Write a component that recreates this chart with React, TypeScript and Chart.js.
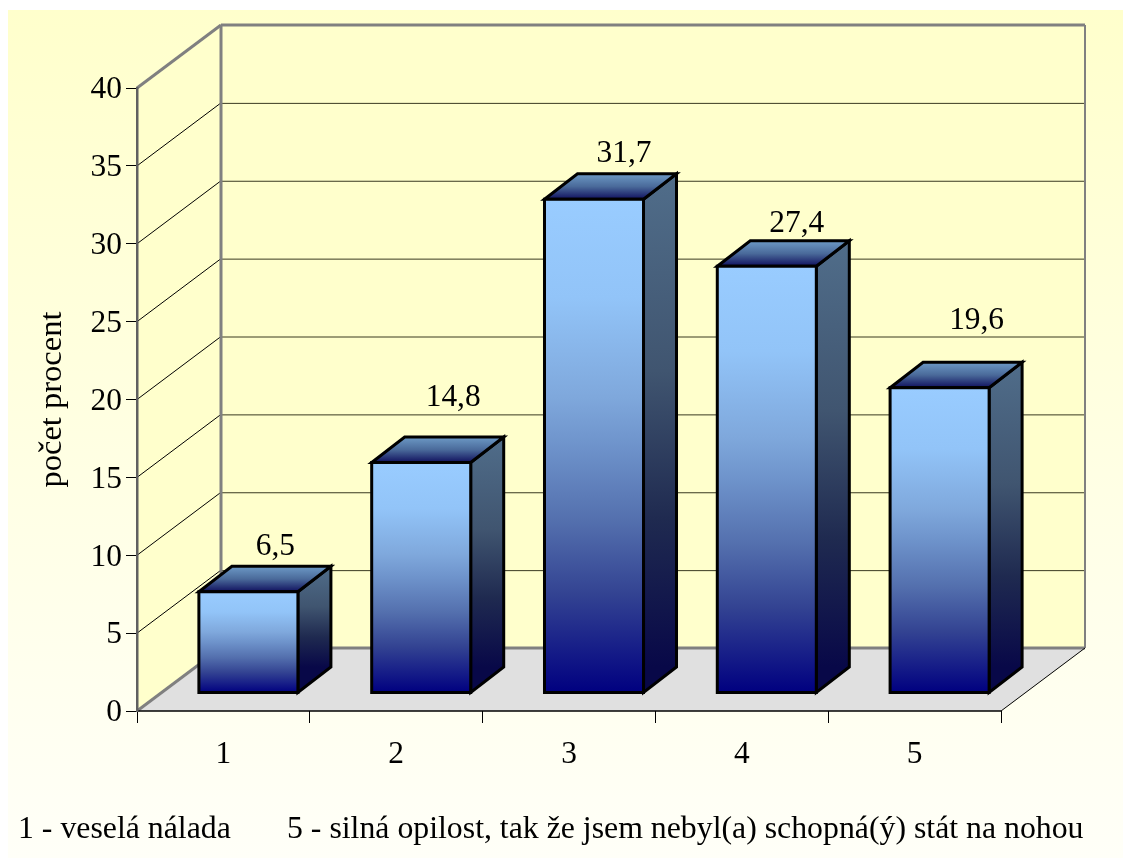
import React, { useEffect, useRef } from "react";
import { Chart, registerables } from "chart.js";

Chart.register(...registerables);

const categories = ["1", "2", "3", "4", "5"];
const percentValues = [6.5, 14.8, 31.7, 27.4, 19.6];
const axisTitle = "počet procent";
const footerLeft = "1 - veselá nálada";
const footerRight = "5 - silná opilost, tak že jsem nebyl(a) schopná(ý) stát na nohou";

const SERIF = '"Liberation Serif", "Times New Roman", serif';
const FONT_SIZE = 31.4;
const FOOTER_FONT_SIZE = 31.8;

// Projection of the chart's depth axis, and of a single column's depth.
const DEPTH = { x: 84, y: -63 };
const BAR_DEPTH = { x: 33, y: -25.5 };
const BAR_OFFSET = { x: 25, y: -18 };
// Hand placement of the value captions relative to each column's rear top edge.
const LABEL_SHIFT = [
  { x: -6, y: -20 },
  { x: -1, y: -39 },
  { x: -3, y: -20 },
  { x: -3, y: -17 },
  { x: 4, y: -41 },
];

const FRONT_STOPS: [number, string][] = [
  [0, "#99CCFF"],
  [0.2, "#92C4F8"],
  [0.4, "#7FA8DC"],
  [0.5, "#6E93CB"],
  [0.65, "#5470AE"],
  [0.8, "#334392"],
  [1, "#000080"],
];
const SIDE_STOPS: [number, string][] = [
  [0, "#506D8A"],
  [0.4, "#405570"],
  [0.7, "#1F2A50"],
  [1, "#080848"],
];
const TOP_STOPS: [number, string][] = [
  [0, "#6D9AC6"],
  [0.5, "#4A6A9A"],
  [1, "#10105E"],
];

const polygon = (ctx: CanvasRenderingContext2D, pts: number[][]) => {
  ctx.beginPath();
  pts.forEach(([x, y], i) => (i ? ctx.lineTo(x, y) : ctx.moveTo(x, y)));
  ctx.closePath();
};

const segment = (ctx: CanvasRenderingContext2D, x1: number, y1: number, x2: number, y2: number, color: string, width: number) => {
  ctx.strokeStyle = color;
  ctx.lineWidth = width;
  ctx.beginPath();
  ctx.moveTo(x1, y1);
  ctx.lineTo(x2, y2);
  ctx.stroke();
};

// Page background, side wall, back wall, floor and grid of the 3D box.
const boxPlugin = {
  id: "box3d",
  beforeDraw(chart: any) {
    const { ctx, chartArea: a, scales } = chart;
    const y = scales.y;
    const dx = DEPTH.x;
    const dy = DEPTH.y;

    ctx.save();
    const page = ctx.createLinearGradient(0, 10, 0, 858);
    page.addColorStop(0, "#FFFFCC");
    page.addColorStop(1, "#FFFFF8");
    ctx.fillStyle = page;
    ctx.fillRect(8, 10, 1115, 848);

    ctx.fillStyle = "#FFFFCC";
    polygon(ctx, [[a.left, a.top], [a.left + dx, a.top + dy], [a.left + dx, a.bottom + dy], [a.left, a.bottom]]);
    ctx.fill();
    ctx.fillRect(a.left + dx, a.top + dy, a.width, a.height);

    ctx.fillStyle = "#E0E0E0";
    polygon(ctx, [[a.left, a.bottom], [a.left + dx, a.bottom + dy], [a.right + dx, a.bottom + dy], [a.right, a.bottom]]);
    ctx.fill();

    y.ticks.forEach((t: any) => {
      if (t.value === 0 || t.value === y.max) return;
      const py = y.getPixelForValue(t.value);
      segment(ctx, a.left, py, a.left + dx, py + dy, "#000000", 1);
      segment(ctx, a.left + dx, py + dy + 0.5, a.right + dx, py + dy + 0.5, "#3A3A20", 1);
    });

    const gray = "#808080";
    segment(ctx, a.left, a.top, a.left + dx, a.top + dy, gray, 3);
    segment(ctx, a.left + dx, a.top + dy, a.right + dx, a.top + dy, gray, 3);
    segment(ctx, a.left + dx, a.top + dy, a.left + dx, a.bottom + dy, gray, 3);
    segment(ctx, a.right + dx, a.top + dy, a.right + dx, a.bottom + dy, gray, 2);
    segment(ctx, a.left + dx, a.bottom + dy, a.right + dx, a.bottom + dy, gray, 3);
    segment(ctx, a.left, a.bottom, a.left + dx, a.bottom + dy, gray, 3);
    segment(ctx, a.right, a.bottom, a.right + dx, a.bottom + dy, "#000000", 1);
    segment(ctx, a.left, a.bottom, a.right, a.bottom, "#000000", 1.5);
    ctx.restore();
  },
};

const verticalGradient = (ctx: CanvasRenderingContext2D, top: number, bottom: number, stops: [number, string][]) => {
  const g = ctx.createLinearGradient(0, top, 0, bottom);
  stops.forEach(([at, color]) => g.addColorStop(at, color));
  return g;
};

// Draws each column as a box from the geometry the bar controller computed.
const columnPlugin = {
  id: "column3d",
  afterDatasetsDraw(chart: any) {
    const { ctx } = chart;
    const meta = chart.getDatasetMeta(0);
    ctx.save();
    ctx.lineJoin = "miter";
    meta.data.forEach((bar: any, i: number) => {
      const { x, y, base, width } = bar.getProps(["x", "y", "base", "width"], true);
      const l = x - width / 2 + BAR_OFFSET.x;
      const r = x + width / 2 + BAR_OFFSET.x;
      const t = y + BAR_OFFSET.y;
      const b = base + BAR_OFFSET.y;
      const ex = BAR_DEPTH.x;
      const ey = BAR_DEPTH.y;

      ctx.strokeStyle = "#000000";
      ctx.lineWidth = 3;

      ctx.fillStyle = verticalGradient(ctx, t + ey, b + ey, SIDE_STOPS);
      polygon(ctx, [[r, t], [r + ex, t + ey], [r + ex, b + ey], [r, b]]);
      ctx.fill();
      ctx.stroke();

      ctx.fillStyle = verticalGradient(ctx, t + ey, t, TOP_STOPS);
      polygon(ctx, [[l, t], [l + ex, t + ey], [r + ex, t + ey], [r, t]]);
      ctx.fill();
      ctx.stroke();

      ctx.fillStyle = verticalGradient(ctx, t, b, FRONT_STOPS);
      ctx.fillRect(l, t, r - l, b - t);
      ctx.strokeRect(l, t, r - l, b - t);

      ctx.fillStyle = "#000000";
      ctx.font = `${FONT_SIZE}px ${SERIF}`;
      ctx.textAlign = "center";
      ctx.textBaseline = "middle";
      const caption = percentValues[i].toFixed(1).replace(".", ",");
      ctx.fillText(caption, (l + r) / 2 + ex + LABEL_SHIFT[i].x, t + ey + LABEL_SHIFT[i].y);
    });

    ctx.font = `${FOOTER_FONT_SIZE}px ${SERIF}`;
    ctx.textAlign = "left";
    ctx.textBaseline = "alphabetic";
    ctx.fillStyle = "#000000";
    ctx.fillText(footerLeft, 18, 838);
    ctx.fillText(footerRight, 287, 838);
    ctx.restore();
  },
};

export default function App() {
  const canvasRef = useRef<HTMLCanvasElement | null>(null);

  useEffect(() => {
    document.body.style.margin = "0";
    const chart = new Chart(canvasRef.current as HTMLCanvasElement, {
      type: "bar",
      data: {
        labels: categories,
        datasets: [
          {
            data: percentValues,
            backgroundColor: "rgba(0,0,0,0)",
            borderWidth: 0,
            categoryPercentage: 1,
            barPercentage: 0.573,
          },
        ],
      },
      plugins: [boxPlugin, columnPlugin],
      options: {
        responsive: false,
        animation: false,
        layout: { padding: { top: 88, right: 122, left: 0, bottom: 0 } },
        plugins: { legend: { display: false }, tooltip: { enabled: false } },
        scales: {
          x: {
            afterFit: (s: any) => {
              s.height = 150;
            },
            grid: { drawOnChartArea: false, drawTicks: true, tickLength: 12, color: "#000000", lineWidth: 1 },
            border: { display: false },
            ticks: { color: "#000000", font: { family: SERIF, size: FONT_SIZE }, padding: 13, maxRotation: 0 },
          },
          y: {
            min: 0,
            max: 40,
            afterFit: (s: any) => {
              s.width = 137;
            },
            title: {
              display: true,
              text: axisTitle,
              color: "#000000",
              font: { family: SERIF, size: 32.5 },
              padding: { top: 33, bottom: 0 },
            },
            grid: { drawOnChartArea: false, drawTicks: true, tickLength: 11, color: "#000000", lineWidth: 1 },
            border: { display: true, color: "#606060", width: 2.5 },
            ticks: { stepSize: 5, color: "#000000", font: { family: SERIF, size: FONT_SIZE }, padding: 4, labelOffset: 2 },
          },
        },
      } as any,
    });
    return () => chart.destroy();
  }, []);

  return <canvas ref={canvasRef} width={1123} height={861} style={{ display: "block" }} />;
}
